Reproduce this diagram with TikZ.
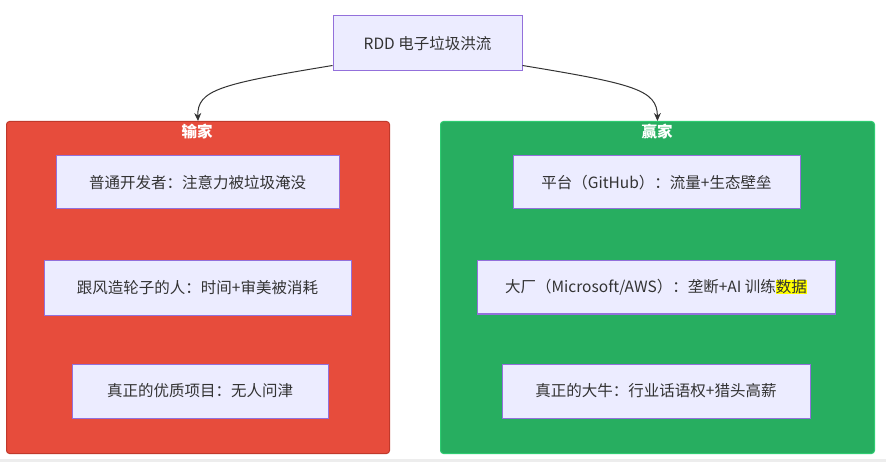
\documentclass[tikz,border=0pt]{standalone}
\usepackage{fontspec}
\setmainfont{Noto Sans CJK SC}
\usetikzlibrary{arrows.meta,calc}
\definecolor{nodefill}{HTML}{ECECFF}
\definecolor{nodeline}{HTML}{9370DB}
\definecolor{txt}{HTML}{333333}
\definecolor{losefill}{HTML}{E74C3C}
\definecolor{loseline}{HTML}{C0392B}
\definecolor{winfill}{HTML}{27AE60}
\definecolor{winline}{HTML}{2ECC71}
\definecolor{hl}{HTML}{FFFF00}
\begin{document}
\begin{tikzpicture}[x=1pt,y=-1pt,
  box/.style={draw=nodeline,fill=nodefill,line width=1pt,text=txt,font=\fontsize{15.5}{18}\selectfont,inner sep=0pt,anchor=center},
  grp/.style={line width=1pt,rounded corners=3pt,anchor=north west,inner sep=0pt},
  gtitle/.style={text=white,font=\fontsize{15.5}{18}\selectfont\bfseries,anchor=center},
  edge/.style={draw=txt,line width=1pt,-{Stealth[length=8pt,width=7pt]}}]
\useasboundingbox (0,0) rectangle (886,462);
\fill[white] (0,0) rectangle (886,462);
\fill[black!7] (0,459) rectangle (886,462);
% groups
\node[grp,draw=loseline,fill=losefill,minimum width=383pt,minimum height=332pt] (lose) at (6,121) {};
\node[grp,draw=winline,fill=winfill,minimum width=434pt,minimum height=332pt] (win) at (440,121) {};
\node[gtitle] (losetitle) at (197,132) {输家};
\node[gtitle] (wintitle) at (657,132) {赢家};
% top node
\node[box,minimum width=189pt,minimum height=55pt] (top) at (427.5,43.5) {RDD 电子垃圾洪流};
% left
\node[box,minimum width=283pt,minimum height=53pt] (a1) at (197.5,182.5) {普通开发者：注意力被垃圾淹没};
\node[box,minimum width=307pt,minimum height=54pt] (a2) at (197.5,288) {跟风造轮子的人：时间+审美被消耗};
\node[box,minimum width=256pt,minimum height=54pt] (a3) at (200,391) {真正的优质项目：无人问津};
% right
\node[box,minimum width=287pt,minimum height=53pt] (b1) at (656.5,182.5) {平台（GitHub）：流量+生态壁垒};
\node[box,minimum width=358pt,minimum height=53pt] (b2) at (656,287.5) {大厂（Microsoft/AWS）：垄断+AI 训练{\setlength\fboxsep{0pt}\colorbox{hl}{数据}}};
\node[box,minimum width=308pt,minimum height=54pt] (b3) at (656,391) {真正的大牛：行业话语权+猎头高薪};
% edges
\coordinate (ls) at ($(top.south west)+(0,-6)$);
\coordinate (rs) at ($(top.south east)+(0,-6)$);
\draw[edge] (ls) .. controls (220,84) and (197,90) .. (lose.north);
\draw[edge] (rs) .. controls (635,84) and (657,90) .. (win.north);
\end{tikzpicture}
\end{document}
